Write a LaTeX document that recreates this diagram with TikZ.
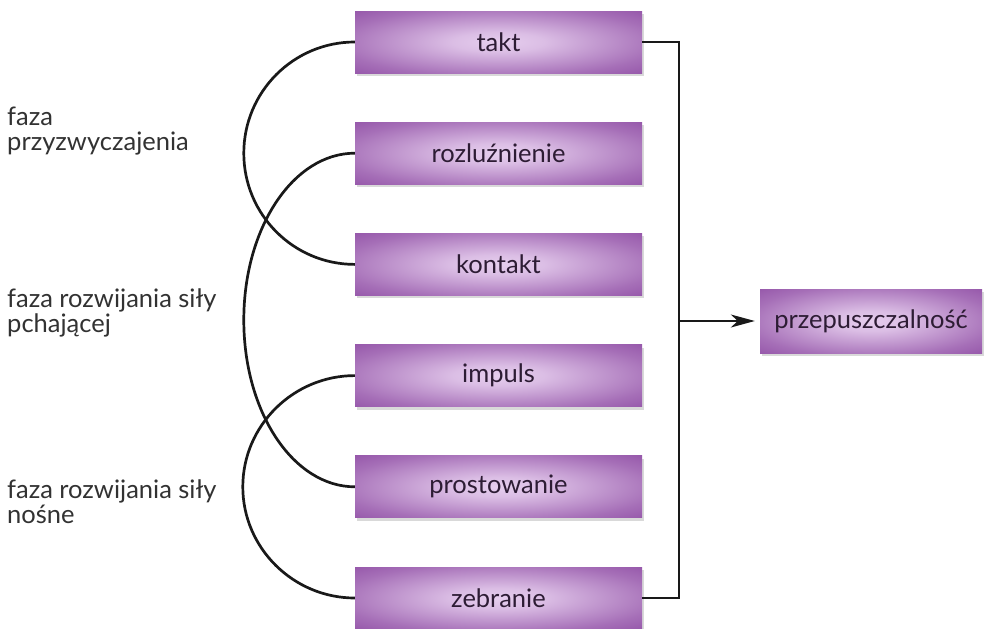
\documentclass[tikz,border=0pt]{standalone}
\usepackage{fontspec}
\setmainfont{Lato}
\usetikzlibrary{arrows.meta,shadows,calc}
\definecolor{boxin}{RGB}{230,206,238}
\definecolor{boxout}{RGB}{138,70,160}
\definecolor{boxtext}{RGB}{45,28,52}
\definecolor{labeltext}{RGB}{50,50,50}
\definecolor{linecol}{RGB}{25,25,25}
\pgfdeclareradialshading{boxglow}{\pgfpoint{0bp}{0bp}}{color(0bp)=(boxin); color(8bp)=(boxin!88!boxout); color(28bp)=(boxin!30!boxout); color(42bp)=(boxout); color(50bp)=(boxout)}
\tikzset{
  phase/.style={rectangle, minimum width=287pt, minimum height=62pt, inner sep=0pt,
    shading=boxglow, text=boxtext, font=\fontsize{25.5}{30}\selectfont,
    drop shadow={shadow xshift=2pt, shadow yshift=-3pt, opacity=0.25, fill=black!60}},
  result/.style={phase, minimum width=222pt, minimum height=64pt},
  lbl/.style={anchor=base west, align=left, inner sep=0pt, text=labeltext, font=\fontsize{25.5}{25}\selectfont},
  curve/.style={draw=linecol, line width=2.7pt},
  bracket/.style={draw=linecol, line width=1.7pt}
}
\begin{document}
\begin{tikzpicture}[x=1pt,y=-1pt]
\useasboundingbox (0,0) rectangle (986,629);
\node[phase] (takt) at (498.5,42) {takt};
\node[phase] (rozl) at (498.5,153.2) {rozluźnienie};
\node[phase] (kont) at (498.5,264.4) {kontakt};
\node[phase] (imp) at (498.5,375.6) {impuls};
\node[phase] (prost) at (498.5,486.8) {prostowanie};
\node[phase] (zeb) at (498.5,598) {zebranie};
\node[result] (prz) at (871,321) {przepuszczalność};
\coordinate (bus) at (679,321);

\node[lbl] (l1) at (7,150) {faza\\przyzwyczajenia};
\node[lbl] (l2) at (7,332) {faza rozwijania siły\\pchającej};
\node[lbl] (l3) at (7,523) {faza rozwijania siły\\nośne};

% arcs
\draw[curve] (takt.west) .. controls +(-61.3,0) and +(0,-61.4) .. ($(takt.west)!0.5!(kont.west)+(-111,0)$)
  .. controls +(0,61.4) and +(-61.3,0) .. (kont.west);
\draw[curve] (rozl.west) .. controls +(-61.3,0) and +(0,-92.5) .. ($(rozl.west)!0.5!(prost.west)+(-111,0)$)
  .. controls +(0,92.5) and +(-61.3,0) .. (prost.west);
\draw[curve] (imp.west) .. controls +(-61.3,0) and +(0,-61.4) .. ($(imp.west)!0.5!(zeb.west)+(-112,0)$)
  .. controls +(0,61.4) and +(-61.3,0) .. (zeb.west);

% bracket
\draw[bracket] (takt.east) -| (bus) |- (zeb.east);
\draw[bracket, -{Stealth[length=24pt,width=13pt,inset=7pt]}, shorten >=5pt] (bus) -- (prz.west);
\end{tikzpicture}
\end{document}
